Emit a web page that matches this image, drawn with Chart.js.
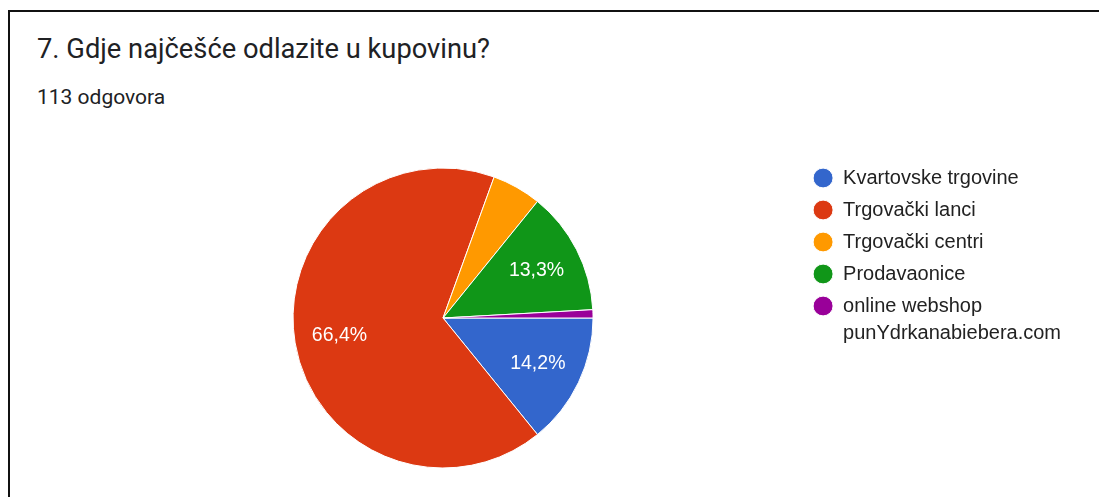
<!DOCTYPE html>
<html>
<head>
<meta charset="utf-8">
<script src="https://cdn.jsdelivr.net/npm/chart.js@4"></script>
<style>
  html, body { margin: 0; padding: 0; background: #fff; }
  body { width: 1099px; height: 497px; position: relative; overflow: hidden; }
  #frame {
    position: absolute; left: 8px; top: 10px; width: 1200px; height: 600px;
    border-top: 2px solid #111; border-left: 2px solid #111;
  }
  #title {
    position: absolute; left: 37px; top: 36px; margin: 0;
    font: 400 27.3px Roboto, sans-serif; line-height: 1; color: #202124;
  }
  #sub {
    position: absolute; left: 37px; top: 87px; margin: 0;
    font: 400 21px Roboto, sans-serif; line-height: 1; color: #202124;
  }
  #box { position: absolute; left: 85px; top: 156px; width: 986px; height: 324px; }
</style>
</head>
<body>
<div id="frame"></div>
<div id="title">7. Gdje najčešće odlazite u kupovinu?</div>
<div id="sub">113 odgovora</div>
<div id="box"><canvas id="myChart"></canvas></div>
<script>
// odgovori po kategoriji (ukupno 113)
const labels = [
  'Kvartovske trgovine',
  'Trgovački lanci',
  'Trgovački centri',
  'Prodavaonice',
  ['online webshop', 'punYdrkanabiebera.com']
];
const counts = [16, 75, 6, 15, 1];
const colors = ['#3366cc', '#dc3912', '#ff9900', '#109618', '#990099'];

// postotci na kriskama, kao u Google Forms (mali se ne pisu)
const sliceLabels = {
  id: 'sliceLabels',
  afterDatasetsDraw(chart) {
    const ctx = chart.ctx;
    const meta = chart.getDatasetMeta(0);
    const data = chart.data.datasets[0].data;
    const total = data.reduce((a, b) => a + b, 0);
    ctx.save();
    ctx.fillStyle = '#ffffff';
    ctx.font = '19.5px "Liberation Sans", Arial, sans-serif';
    ctx.textAlign = 'center';
    ctx.textBaseline = 'middle';
    meta.data.forEach((arc, i) => {
      const share = data[i] / total;
      if (share < 0.1) return;
      const p = arc.getProps(['x', 'y', 'startAngle', 'endAngle', 'outerRadius'], true);
      const mid = (p.startAngle + p.endAngle) / 2;
      const r = p.outerRadius * 0.7;
      const txt = (share * 100).toFixed(1).replace('.', ',') + '%';
      ctx.fillText(txt, p.x + Math.cos(mid) * r, p.y + Math.sin(mid) * r);
    });
    ctx.restore();
  }
};

var ctx = document.getElementById('myChart').getContext('2d');
let myChart = new Chart(ctx, {
  type: 'pie',
  data: {
    labels: labels,
    datasets: [{
      data: counts,
      backgroundColor: colors,
      borderColor: '#ffffff',
      borderWidth: 1
    }]
  },
  options: {
    responsive: true,
    maintainAspectRatio: false,
    animation: false,
    rotation: 90,
    radius: 150,
    layout: { padding: 0 },
    plugins: {
      tooltip: { enabled: false },
      legend: {
        position: 'right',
        align: 'start',
        labels: {
          usePointStyle: true,
          pointStyle: 'circle',
          pointStyleWidth: 20,
          boxHeight: 14,
          padding: 12,
          color: '#222222',
          font: { family: '"Liberation Sans", Arial, sans-serif', size: 20, lineHeight: 1.35 }
        }
      }
    }
  },
  plugins: [sliceLabels]
});
</script>
</body>
</html>
